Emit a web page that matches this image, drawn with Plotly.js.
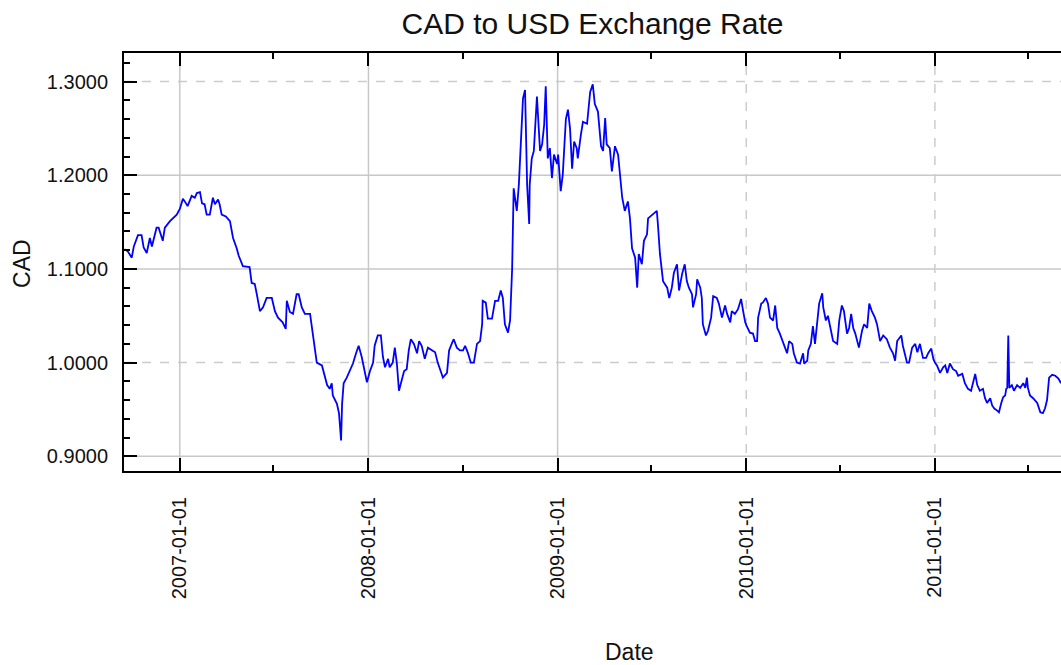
<!DOCTYPE html>
<html>
<head>
<meta charset="utf-8">
<script src="https://cdn.plot.ly/plotly-3.0.1.min.js"></script>
<style>html,body{margin:0;padding:0;background:#fff;}#chart{width:1061px;height:665px;}</style>
</head>
<body>
<div id="chart"></div>
<script>
const dates = [
"2006-09-16","2006-09-22","2006-09-30","2006-10-04","2006-10-12","2006-10-19","2006-10-23","2006-10-29","2006-11-04","2006-11-08",
"2006-11-17","2006-11-21","2006-11-29","2006-12-03","2006-12-13","2006-12-18","2006-12-26","2007-01-01","2007-01-07","2007-01-13",
"2007-01-16","2007-01-24","2007-01-30","2007-02-03","2007-02-09","2007-02-13","2007-02-18","2007-02-22","2007-02-28","2007-03-06",
"2007-03-10","2007-03-16","2007-03-19","2007-03-23","2007-03-31","2007-04-08","2007-04-14","2007-04-21","2007-04-25","2007-05-03",
"2007-05-11","2007-05-16","2007-05-20","2007-05-26","2007-05-30","2007-06-05","2007-06-11","2007-06-18","2007-06-28","2007-07-04",
"2007-07-10","2007-07-19","2007-07-25","2007-07-27","2007-08-02","2007-08-08","2007-08-15","2007-08-19","2007-08-25","2007-08-31",
"2007-09-10","2007-09-15","2007-09-19","2007-09-23","2007-10-03","2007-10-09","2007-10-13","2007-10-18","2007-10-22","2007-10-24",
"2007-11-01","2007-11-05","2007-11-09","2007-11-11","2007-11-14","2007-11-20","2007-11-26","2007-12-02","2007-12-08","2007-12-13",
"2007-12-19","2007-12-25","2007-12-29","2008-01-04","2008-01-10","2008-01-13","2008-01-19","2008-01-25","2008-01-29","2008-02-02",
"2008-02-08","2008-02-11","2008-02-17","2008-02-21","2008-02-25","2008-02-29","2008-03-06","2008-03-10","2008-03-15","2008-03-19",
"2008-03-23","2008-03-29","2008-04-04","2008-04-08","2008-04-13","2008-04-19","2008-04-25","2008-05-03","2008-05-09","2008-05-14",
"2008-05-20","2008-05-24","2008-06-01","2008-06-05","2008-06-10","2008-06-14","2008-06-20","2008-06-26","2008-07-02","2008-07-06",
"2008-07-11","2008-07-17","2008-07-23","2008-07-29","2008-08-04","2008-08-08","2008-08-09","2008-08-15","2008-08-19","2008-08-27",
"2008-09-02","2008-09-08","2008-09-13","2008-09-17","2008-09-21","2008-09-27","2008-10-01","2008-10-05","2008-10-08","2008-10-14",
"2008-10-18","2008-10-22","2008-10-26","2008-10-30","2008-11-01","2008-11-03","2008-11-07","2008-11-08","2008-11-12","2008-11-16",
"2008-11-22","2008-11-24","2008-11-28","2008-12-02","2008-12-06","2008-12-09","2008-12-11","2008-12-13","2008-12-17","2008-12-21",
"2008-12-25","2008-12-31","2009-01-02","2009-01-07","2009-01-11","2009-01-17","2009-01-21","2009-01-25","2009-01-29","2009-02-02",
"2009-02-07","2009-02-09","2009-02-15","2009-02-19","2009-02-27","2009-03-01","2009-03-05","2009-03-10","2009-03-14","2009-03-20",
"2009-03-26","2009-03-30","2009-04-03","2009-04-06","2009-04-12","2009-04-16","2009-04-22","2009-04-28","2009-05-02","2009-05-06",
"2009-05-11","2009-05-17","2009-05-21","2009-05-25","2009-05-31","2009-06-04","2009-06-07","2009-06-13","2009-06-17","2009-06-23",
"2009-06-25","2009-07-03","2009-07-12","2009-07-14","2009-07-18","2009-07-24","2009-08-01","2009-08-05","2009-08-10","2009-08-14",
"2009-08-20","2009-08-24","2009-08-30","2009-09-04","2009-09-08","2009-09-12","2009-09-18","2009-09-20","2009-09-26","2009-09-28",
"2009-10-04","2009-10-07","2009-10-09","2009-10-15","2009-10-19","2009-10-25","2009-10-29","2009-11-05","2009-11-09","2009-11-15",
"2009-11-21","2009-11-25","2009-12-01","2009-12-04","2009-12-10","2009-12-16","2009-12-22","2009-12-26","2009-12-30","2010-01-02",
"2010-01-08","2010-01-14","2010-01-18","2010-01-22","2010-01-24","2010-01-30","2010-02-02","2010-02-08","2010-02-12","2010-02-16",
"2010-02-22","2010-02-26","2010-03-02","2010-03-07","2010-03-13","2010-03-17","2010-03-21","2010-03-25","2010-03-31","2010-04-03",
"2010-04-09","2010-04-15","2010-04-21","2010-04-23","2010-04-29","2010-05-01","2010-05-06","2010-05-10","2010-05-14","2010-05-18",
"2010-05-22","2010-05-28","2010-05-30","2010-06-04","2010-06-08","2010-06-14","2010-06-18","2010-06-26","2010-06-30","2010-07-05",
"2010-07-09","2010-07-15","2010-07-19","2010-07-23","2010-07-27","2010-07-31","2010-08-03","2010-08-07","2010-08-13","2010-08-17",
"2010-08-23","2010-08-27","2010-09-01","2010-09-07","2010-09-11","2010-09-17","2010-09-23","2010-09-30","2010-10-06","2010-10-12",
"2010-10-16","2010-10-20","2010-10-28","2010-10-31","2010-11-08","2010-11-12","2010-11-18","2010-11-24","2010-11-28","2010-12-03",
"2010-12-09","2010-12-15","2010-12-19","2010-12-25","2010-12-29","2011-01-01","2011-01-05","2011-01-11","2011-01-17","2011-01-21",
"2011-01-25","2011-01-30","2011-02-05","2011-02-11","2011-02-15","2011-02-23","2011-02-28","2011-03-06","2011-03-12","2011-03-16",
"2011-03-20","2011-03-24","2011-03-29","2011-04-04","2011-04-08","2011-04-12","2011-04-18","2011-04-22","2011-04-26","2011-05-01",
"2011-05-05","2011-05-09","2011-05-13","2011-05-17","2011-05-19","2011-05-21","2011-05-23","2011-05-25","2011-05-30","2011-06-03",
"2011-06-09","2011-06-15","2011-06-21","2011-06-25","2011-06-28","2011-06-30","2011-07-04","2011-07-10","2011-07-14","2011-07-18",
"2011-07-24","2011-07-29","2011-08-02","2011-08-06","2011-08-10","2011-08-16","2011-08-22","2011-08-28","2011-09-02"
];
const cadRate = [
1.121,1.119,1.112,1.124,1.136,1.136,1.123,1.117,1.133,1.124,
1.144,1.144,1.130,1.144,1.151,1.154,1.158,1.164,1.175,1.170,
1.167,1.178,1.176,1.181,1.182,1.170,1.169,1.158,1.158,1.176,
1.169,1.174,1.169,1.158,1.156,1.151,1.133,1.122,1.114,1.103,
1.102,1.102,1.085,1.084,1.073,1.055,1.059,1.069,1.069,1.055,
1.048,1.043,1.036,1.066,1.054,1.052,1.073,1.073,1.059,1.052,
1.052,1.030,1.013,1.000,0.997,0.984,0.976,0.972,0.978,0.965,
0.956,0.946,0.917,0.956,0.978,0.984,0.991,0.999,1.010,1.018,
1.006,0.991,0.979,0.991,1.000,1.018,1.029,1.029,1.006,0.995,
1.004,0.995,1.000,1.016,0.999,0.970,0.984,0.991,0.993,1.013,
1.025,1.020,1.010,1.023,1.018,1.004,1.016,1.013,1.011,1.000,
0.991,0.984,0.989,1.013,1.020,1.025,1.016,1.013,1.013,1.018,
1.011,1.000,1.000,1.020,1.023,1.041,1.066,1.064,1.047,1.047,
1.066,1.066,1.077,1.069,1.041,1.032,1.045,1.100,1.186,1.162,
1.190,1.238,1.282,1.291,1.226,1.190,1.148,1.190,1.218,1.226,
1.284,1.268,1.226,1.233,1.254,1.295,1.265,1.218,1.229,1.197,
1.222,1.212,1.222,1.183,1.201,1.260,1.270,1.250,1.207,1.236,
1.229,1.218,1.243,1.257,1.255,1.268,1.289,1.297,1.276,1.268,
1.231,1.226,1.261,1.233,1.229,1.204,1.231,1.222,1.199,1.176,
1.162,1.172,1.154,1.122,1.112,1.080,1.116,1.105,1.130,1.137,
1.154,1.158,1.162,1.148,1.116,1.087,1.080,1.069,1.080,1.096,
1.105,1.077,1.095,1.105,1.087,1.080,1.073,1.059,1.073,1.089,
1.080,1.069,1.041,1.029,1.034,1.048,1.071,1.069,1.063,1.048,
1.061,1.052,1.043,1.055,1.052,1.057,1.068,1.055,1.043,1.039,
1.032,1.031,1.023,1.023,1.048,1.063,1.064,1.069,1.063,1.048,
1.045,1.061,1.037,1.031,1.023,1.016,1.010,1.023,1.020,1.010,
1.000,0.999,1.010,0.999,1.002,1.013,1.020,1.039,1.020,1.041,
1.063,1.074,1.059,1.045,1.050,1.034,1.023,1.020,1.045,1.061,
1.055,1.031,1.037,1.052,1.037,1.031,1.023,1.016,1.034,1.041,
1.037,1.063,1.055,1.048,1.041,1.023,1.029,1.025,1.016,1.010,
1.002,1.023,1.029,1.018,1.000,1.000,1.016,1.020,1.011,1.020,
1.005,1.005,1.010,1.015,1.004,1.000,0.997,0.989,0.995,0.997,
0.989,0.999,0.993,0.991,0.986,0.988,0.978,0.972,0.970,0.981,
0.988,0.976,0.970,0.972,0.962,0.957,0.962,0.954,0.951,0.949,
0.947,0.956,0.963,0.965,0.972,0.973,1.029,0.973,0.976,0.970,
0.976,0.973,0.978,0.973,0.984,0.973,0.965,0.962,0.960,0.957,
0.947,0.946,0.951,0.960,0.984,0.987,0.986,0.983,0.978
];
const yTicks = [0.9, 1.0, 1.1, 1.2, 1.3];
const ySolidGrid = [0.9, 1.1, 1.2];
const yDashGrid = [1.0, 1.3];
const xSolidGrid = ["2007-01-01", "2008-01-01", "2009-01-01"];
const xDashGrid = ["2010-01-01", "2011-01-01"];

const FONT = "Liberation Sans, Arial, sans-serif";
const TXT = '#111111';
const shapes = [];
ySolidGrid.forEach(v => shapes.push({type:'line', xref:'paper', x0:0, x1:1, yref:'y', y0:v, y1:v, layer:'below', line:{color:'#c8c8c8', width:1.5}}));
yDashGrid.forEach(v => shapes.push({type:'line', xref:'paper', x0:0, x1:1, yref:'y', y0:v, y1:v, layer:'below', line:{color:'#cccccc', width:1.5, dash:'dash'}}));
xSolidGrid.forEach(v => shapes.push({type:'line', yref:'paper', y0:0, y1:1, xref:'x', x0:v, x1:v, layer:'below', line:{color:'#c8c8c8', width:1.5}}));
xDashGrid.forEach(v => shapes.push({type:'line', yref:'paper', y0:0, y1:1, xref:'x', x0:v, x1:v, layer:'below', line:{color:'#cccccc', width:1.5, dash:'dash'}}));

const trace = {
  x: dates, y: cadRate, type: 'scatter', mode: 'lines',
  line: {color: '#0000ff', width: 1.8}, hoverinfo: 'x+y'
};

const layout = {
  width: 1061, height: 665,
  margin: {l: 124, r: 0, t: 53, b: 194, pad: 0},
  paper_bgcolor: '#ffffff', plot_bgcolor: '#ffffff',
  showlegend: false,
  font: {family: FONT, color: TXT, size: 20},
  title: {text: 'CAD to USD Exchange Rate', font: {family: FONT, size: 30, color: TXT},
          x: 0.5, xref: 'paper', xanchor: 'center', y: 1 - 23/665, yref: 'container', yanchor: 'middle'},
  xaxis: {
    type: 'date', range: ['2006-09-15', '2011-09-02'],
    tick0: '2007-01-01', dtick: 'M12', tickformat: '%Y-%m-%d', tickangle: -90,
    ticks: 'inside', ticklen: 13, tickwidth: 2, tickcolor: '#000',
    minor: {dtick: 'M6', ticks: 'inside', ticklen: 6, tickwidth: 2, tickcolor: '#000', showgrid: false},
    showline: true, linecolor: '#000', linewidth: 2, mirror: 'ticks',
    showgrid: false, zeroline: false, ticklabelstandoff: 16,
    tickfont: {family: FONT, size: 20, color: TXT}
  },
  yaxis: {
    range: [0.8843, 1.3305], tickvals: yTicks, tickformat: '.4f',
    ticks: 'inside', ticklen: 13, tickwidth: 2, tickcolor: '#000',
    minor: {dtick: 0.02, tick0: 0.9, ticks: 'inside', ticklen: 6, tickwidth: 2, tickcolor: '#000', showgrid: false},
    showline: true, linecolor: '#000', linewidth: 2, mirror: false,
    showgrid: false, zeroline: false, ticklabelstandoff: 10,
    tickfont: {family: FONT, size: 20, color: TXT}
  },
  shapes: shapes,
  annotations: [
    {text: 'Date', xref: 'paper', yref: 'paper', x: (629-124)/937, y: (470.7-651)/417.2,
     xanchor: 'center', yanchor: 'middle', showarrow: false, font: {family: FONT, size: 23, color: TXT}},
    {text: 'CAD', xref: 'paper', yref: 'paper', x: (22-124)/937, y: (470.7-264)/417.2, textangle: -90,
     xanchor: 'center', yanchor: 'middle', showarrow: false, font: {family: FONT, size: 23, color: TXT}}
  ]
};

Plotly.newPlot('chart', [trace], layout, {staticPlot: true, displayModeBar: false});
</script>
</body>
</html>
